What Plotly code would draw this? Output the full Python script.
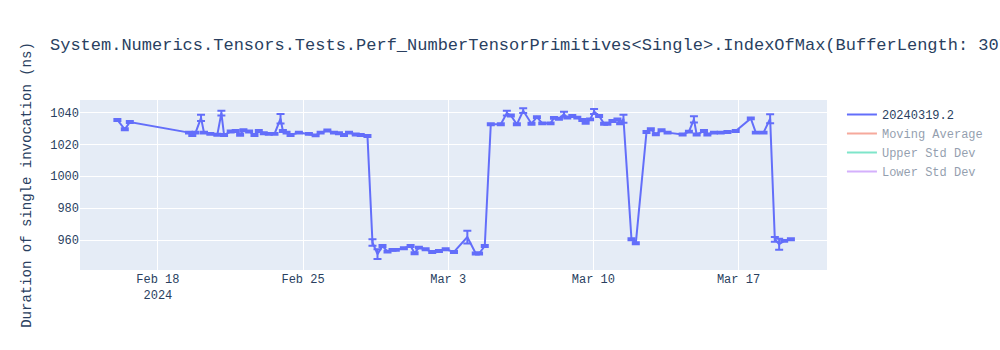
import pandas as pd
import plotly.graph_objects as go

TITLE = "System.Numerics.Tensors.Tests.Perf_NumberTensorPrimitives<Single>.IndexOfMax(BufferLength: 3079)"
BUILD = "20240319.2"

run_times = [
    "2024-02-16 01:06", "2024-02-16 09:42", "2024-02-16 15:30", "2024-02-19 12:00",
    "2024-02-19 15:48", "2024-02-19 19:38", "2024-02-20 01:54", "2024-02-20 05:22",
    "2024-02-20 12:42", "2024-02-20 20:48", "2024-02-21 01:28", "2024-02-21 04:35",
    "2024-02-21 12:16", "2024-02-21 18:03", "2024-02-21 23:10", "2024-02-22 03:00",
    "2024-02-22 09:36", "2024-02-22 15:46", "2024-02-22 20:46", "2024-02-23 02:33",
    "2024-02-23 08:21", "2024-02-23 14:58", "2024-02-23 21:56", "2024-02-24 00:40",
    "2024-02-24 04:54", "2024-02-24 09:32", "2024-02-24 19:10", "2024-02-25 06:46",
    "2024-02-25 14:32", "2024-02-25 20:21", "2024-02-26 04:08", "2024-02-26 11:47",
    "2024-02-26 17:35", "2024-02-26 23:24", "2024-02-27 05:12", "2024-02-27 12:59",
    "2024-02-27 18:47", "2024-02-28 02:33", "2024-02-28 08:21", "2024-02-28 14:10",
    "2024-02-28 19:58", "2024-02-29 01:46", "2024-02-29 07:34", "2024-02-29 11:24",
    "2024-02-29 20:41", "2024-03-01 04:28", "2024-03-01 09:06", "2024-03-01 14:05",
    "2024-03-01 21:52", "2024-03-02 05:31", "2024-03-02 13:18", "2024-03-02 21:04",
    "2024-03-03 06:42", "2024-03-03 22:09", "2024-03-04 07:54", "2024-03-04 11:43",
    "2024-03-04 18:20", "2024-03-05 01:18", "2024-03-05 12:54", "2024-03-05 19:52",
    "2024-03-06 00:30", "2024-03-06 07:28", "2024-03-06 14:47", "2024-03-07 00:24",
    "2024-03-07 06:41", "2024-03-07 12:50", "2024-03-07 22:28", "2024-03-08 02:25",
    "2024-03-08 08:12", "2024-03-08 14:01", "2024-03-08 17:50", "2024-03-08 23:38",
    "2024-03-09 05:27", "2024-03-09 11:15", "2024-03-09 15:06", "2024-03-09 20:11",
    "2024-03-10 00:50", "2024-03-10 06:39", "2024-03-10 12:26", "2024-03-10 16:16",
    "2024-03-10 22:05", "2024-03-11 03:53", "2024-03-11 07:00", "2024-03-11 10:51",
    "2024-03-11 20:08", "2024-03-12 01:08", "2024-03-12 13:32", "2024-03-12 18:32",
    "2024-03-13 00:20", "2024-03-13 06:56", "2024-03-13 13:54", "2024-03-14 07:19",
    "2024-03-14 14:37", "2024-03-14 20:25", "2024-03-14 23:34", "2024-03-15 08:02",
    "2024-03-15 11:58", "2024-03-15 19:38", "2024-03-16 03:24", "2024-03-16 11:11",
    "2024-03-16 20:48", "2024-03-17 14:14", "2024-03-17 20:02", "2024-03-18 04:58",
    "2024-03-18 12:37", "2024-03-18 18:04", "2024-03-18 23:04", "2024-03-19 04:52",
    "2024-03-19 12:39",
]

duration_ns = [
    1035.2, 1029.4, 1033.9, 1027.3,
    1025.8, 1027.3, 1036.5, 1027.3,
    1026.5, 1026.0, 1039.5, 1025.8,
    1028.0, 1028.3, 1026.0, 1028.8,
    1028.0, 1025.8, 1028.3, 1026.9,
    1026.5, 1026.5, 1036.0, 1028.3,
    1027.3, 1025.8, 1027.3, 1026.5,
    1025.6, 1027.3, 1028.6, 1027.3,
    1026.9, 1025.8, 1027.3, 1026.1,
    1025.8, 1025.2, 958.6, 951.3,
    956.4, 952.9, 954.0, 954.0,
    955.0, 956.4, 951.9, 955.4,
    954.4, 952.7, 953.3, 954.4,
    952.7, 962.0, 951.7, 951.7,
    956.4, 1032.5, 1032.5, 1039.5,
    1038.0, 1032.5, 1041.0, 1032.9,
    1037.0, 1033.1, 1033.1, 1036.5,
    1036.0, 1038.8, 1036.7, 1037.7,
    1036.7, 1035.2, 1033.5, 1035.6,
    1040.5, 1037.7, 1032.9, 1032.9,
    1034.6, 1035.6, 1033.1, 1036.0,
    960.6, 958.1, 1027.7, 1029.4,
    1026.3, 1028.8, 1027.3, 1026.1,
    1027.9, 1035.6, 1026.1, 1028.3,
    1026.1, 1027.3, 1027.3, 1027.7,
    1028.3, 1036.2, 1027.3, 1027.3,
    1036.0, 960.6, 957.5, 959.6,
    960.6,
]

error_ns = [
    0.6, 0.6, 0.6, 0.6,
    0.6, 0.6, 2.0, 0.6,
    0.6, 0.6, 1.5, 0.6,
    0.6, 0.6, 0.6, 0.6,
    0.6, 0.6, 0.6, 0.6,
    0.6, 0.6, 3.0, 0.6,
    0.6, 0.6, 0.6, 0.6,
    0.6, 0.6, 0.6, 0.6,
    0.6, 0.6, 0.6, 0.6,
    0.6, 0.6, 2.0, 3.0,
    0.6, 0.6, 0.6, 0.6,
    0.6, 0.6, 0.6, 0.6,
    0.6, 0.6, 0.6, 0.6,
    0.6, 4.0, 0.6, 0.6,
    0.6, 0.6, 0.6, 1.5,
    0.6, 0.6, 1.5, 0.6,
    0.6, 0.6, 0.6, 0.6,
    0.6, 1.5, 0.6, 0.6,
    0.6, 0.6, 0.6, 0.6,
    1.5, 0.6, 0.6, 0.6,
    0.6, 0.6, 0.6, 2.5,
    0.6, 0.6, 0.6, 0.6,
    0.6, 0.6, 0.6, 0.6,
    0.6, 2.0, 0.6, 0.6,
    0.6, 0.6, 0.6, 0.6,
    0.6, 0.6, 0.6, 0.6,
    2.8, 1.5, 3.4, 0.6,
    0.6,
]

x_range = ["2024-02-14 05:50", "2024-03-21 06:26"]
y_range = [941.4, 1047.7]
y_step = 20

FONT = "Liberation Mono, Courier New, monospace"

series = pd.Series(duration_ns, index=pd.to_datetime(run_times))
moving_avg = series.rolling(5, min_periods=1).mean()
moving_std = series.rolling(5, min_periods=1).std().fillna(0)

fig = go.Figure()
fig.add_trace(go.Scatter(
    x=series.index, y=series.values, mode="lines", name=BUILD,
    error_y=dict(type="data", array=error_ns, visible=True),
))
fig.add_trace(go.Scatter(
    x=series.index, y=moving_avg.values, mode="lines",
    name="Moving Average", visible="legendonly",
))
fig.add_trace(go.Scatter(
    x=series.index, y=(moving_avg + 2 * moving_std).values, mode="lines",
    name="Upper Std Dev", visible="legendonly",
))
fig.add_trace(go.Scatter(
    x=series.index, y=(moving_avg - 2 * moving_std).values, mode="lines",
    name="Lower Std Dev", visible="legendonly",
))

fig.update_layout(
    width=1000, height=350,
    template="plotly",
    font=dict(family=FONT),
    title=dict(text=TITLE),
    yaxis=dict(title=dict(text="Duration of single invocation (ns)"),
               range=y_range, dtick=y_step),
    xaxis=dict(range=x_range),
)

fig.write_html("out.html")
